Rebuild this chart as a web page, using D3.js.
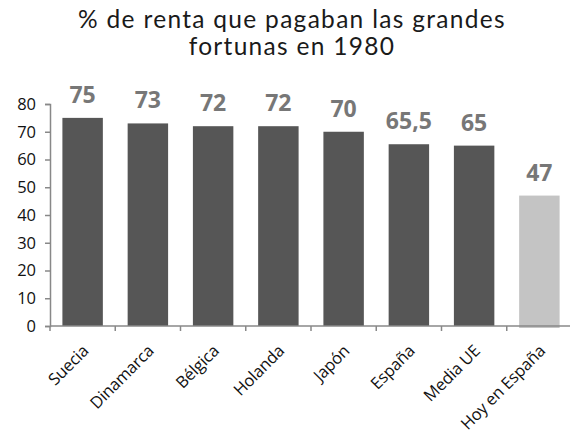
<!DOCTYPE html>
<html><head><meta charset="utf-8">
<script src="https://cdn.jsdelivr.net/npm/d3@7"></script>
<style>body{margin:0;background:#fff}</style>
</head><body>
<svg id="c" width="570" height="436"></svg>
<script>
const categories = ["Suecia","Dinamarca","Bélgica","Holanda","Japón","España","Media UE","Hoy en España"];
const values = [75,73,72,72,70,65.5,65,47];
const valueLabels = ["75","73","72","72","70","65,5","65","47"];
const yTicks = [0,10,20,30,40,50,60,70,80];
const titleLines = ["% de renta que pagaban las grandes","fortunas en 1980"];

const svg = d3.select("#c");
const x = d3.scaleBand().domain(categories).range([50,572]).paddingInner(0.38).paddingOuter(0.19);
const y = d3.scaleLinear().domain([0,80]).range([326,104]);

svg.append("g").selectAll("text").data(titleLines).join("text")
  .attr("x",292).attr("y",(d,i)=>28+i*27).attr("text-anchor","middle")
  .attr("font-family","Lato, sans-serif").attr("font-weight",400).attr("font-size",24.5)
  .attr("letter-spacing",1.3).attr("fill","#1a1a1a").text(d=>d);

svg.append("g").selectAll("rect").data(values).join("rect")
  .attr("x",(d,i)=>x(categories[i])).attr("width",x.bandwidth())
  .attr("y",d=>y(d)).attr("height",(d,i)=>y(0)-y(d)+(i===7?2:0))
  .attr("fill",(d,i)=>i===7?"#c4c4c4":"#565656");

const ya = svg.append("g").attr("transform","translate(50,0)")
  .call(d3.axisLeft(y).tickValues(yTicks).tickSize(5).tickPadding(9));
ya.select(".domain").attr("stroke","#888").attr("stroke-width",1.5);
ya.selectAll(".tick line").attr("stroke","#888").attr("stroke-width",1.5);
ya.selectAll(".tick text").attr("font-family","'Open Sans', sans-serif").attr("font-size",16.5).attr("fill","#111");

const xBand = d3.scaleLinear().domain([0,8]).range([50,572]);
const xa = svg.append("g").attr("transform","translate(0,326)");
xa.append("line").attr("x1",50).attr("x2",572).attr("stroke","#888").attr("stroke-width",1.5);
xa.selectAll("line.t").data(d3.range(8)).join("line").attr("class","t")
  .attr("x1",d=>xBand(d)).attr("x2",d=>xBand(d)).attr("y1",0).attr("y2",5)
  .attr("stroke","#888").attr("stroke-width",1.5);
xa.selectAll("text").data(categories).join("text")
  .attr("transform",d=>`translate(${x(d)+x.bandwidth()/2+7},${26}) rotate(-45)`)
  .attr("text-anchor","end").attr("font-family","'Open Sans', sans-serif").attr("font-size",16.5)
  .attr("letter-spacing",-0.2).attr("fill","#111").text(d=>d);

svg.append("g").selectAll("text").data(values).join("text")
  .attr("x",(d,i)=>x(categories[i])+x.bandwidth()/2).attr("y",d=>y(d)-15)
  .attr("text-anchor","middle").attr("font-family","'Open Sans', sans-serif").attr("font-weight","bold")
  .attr("font-size",23).attr("fill","#777").text((d,i)=>valueLabels[i]);
</script>
</body></html>
